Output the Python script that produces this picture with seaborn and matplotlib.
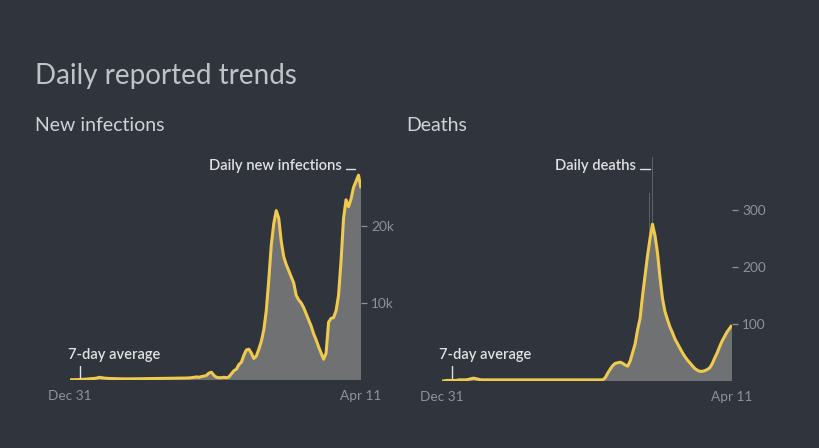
import numpy as np
import pandas as pd
import matplotlib
matplotlib.use("Agg")
import matplotlib.pyplot as plt
import seaborn as sns
from matplotlib.lines import Line2D

# ---------------- data ----------------
start = pd.Timestamp("2019-12-31")
end = pd.Timestamp("2021-04-11")
dates = pd.date_range(end=end, periods=118, freq="4D")

infections_avg = [
    20, 30, 40, 50, 60, 80, 100, 120, 150, 180, 200, 250,
    350, 300, 250, 220, 200, 190, 180, 170, 160, 160, 150, 150,
    150, 150, 160, 160, 160, 170, 170, 180, 180, 190, 190, 200,
    200, 210, 210, 220, 220, 230, 230, 240, 240, 250, 250, 260, 270,
    300, 350, 400, 350, 450, 500, 600,
    900, 1000, 600, 350, 300, 300, 350, 300, 400,
    800, 1200, 1400, 2000, 2300, 3200, 3900, 4000, 3500, 2800, 3100, 4000, 5000, 6500,
    9000, 13000, 17500, 20300, 22000, 21000, 18000, 16000, 15000, 14200, 13400, 12600,
    11000, 10400, 10000, 9400, 8600, 7800, 7000, 6000, 5200, 4300, 3500, 2700,
    3500, 7500, 8000, 8100, 9000, 11000, 15500, 21000, 23400, 22500, 23500, 25000,
    25800, 26600, 24900,
]
deaths_avg = [
    0, 0, 1, 1, 1, 1, 1, 2, 2, 2,
    2, 3, 4, 5, 4, 3, 2,
    2, 2, 2, 2, 2, 2, 2, 2, 2, 2, 2, 2,
    2, 2, 2, 2, 2, 2, 2, 2, 2, 2, 2, 2,
    2, 2, 2, 2, 2, 2, 2, 2, 2, 2, 2, 2,
    2, 2, 2, 2, 2, 2, 2, 2, 2, 2, 2, 2,
    2, 6, 14, 21, 27, 31, 32, 33, 31, 28, 26, 35, 50, 65, 90, 110,
    150, 185, 220, 250, 275, 255, 225, 182, 145, 122, 108, 95, 85, 74,
    66, 58, 50, 43, 37, 32, 27, 22, 19, 17, 17, 18, 20, 23, 30, 40,
    49, 60, 70, 78, 86, 92, 98,
]
assert len(infections_avg) == len(dates) and len(deaths_avg) == len(dates)

inf_spike_days = [278, 289, 332, 443, 462]
inf_spike_vals = [10000, 5600, 24000, 26000, 29000]
death_spike_days = [334, 339, 345]
death_spike_vals = [330, 393, 318]

x_tick_labels = ["Dec 31", "Apr 11"]
inf_ticks = [10000, 20000]
inf_tick_labels = ["10k", "20k"]
death_ticks = [100, 200, 300]
death_tick_labels = ["100", "200", "300"]

# ---------------- style ----------------
BG = "#30343c"
YELLOW = "#efca4e"
GREY = "#6f7173"
SPIKE = "#5d6064"
TICK = "#8f9297"
TEXT = "#e0e1e3"

sns.set_theme(style="dark")
plt.rcParams["font.family"] = ["Lato", "DejaVu Sans"]

W, H = 820, 448
fig = plt.figure(figsize=(W / 100, H / 100), dpi=100, facecolor=BG)

def fx(x):
    return x / W

def fy(y):
    return 1 - y / H

days = np.asarray((dates - start).days)
total_days = (end - start).days

def panel(rect, avg, spike_days, spike_vals, ymax, ticks, tick_labels):
    ax = fig.add_axes(rect)
    ax.set_facecolor(BG)
    ax.bar(spike_days, spike_vals, width=0.7, color=SPIKE, linewidth=0)
    ax.bar(days, avg, width=4.0, color=GREY, linewidth=0)
    sns.lineplot(x=days, y=avg, ax=ax, color=YELLOW, linewidth=2.2,
                 solid_joinstyle="round", solid_capstyle="butt")
    ax.set_xlim(0, total_days)
    ax.set_ylim(0, ymax)
    for s in ax.spines.values():
        s.set_visible(False)
    ax.grid(False)
    ax.set_xticks([0, total_days])
    ax.set_xticklabels(x_tick_labels)
    ax.yaxis.tick_right()
    ax.set_yticks(ticks)
    ax.set_yticklabels(tick_labels)
    ax.tick_params(axis="both", colors=TICK, labelcolor=TICK, labelsize=9.8,
                   length=4.5, width=0.9, direction="out")
    ax.tick_params(axis="y", pad=3)
    ax.tick_params(axis="x", pad=3)
    ax.set_xlabel("")
    ax.set_ylabel("")
    return ax

# left panel: x 70..361 px, zero at y=380, 10k per 77 px
ax1 = panel([fx(70), fy(380), fx(361) - fx(70), 231 / H],
            infections_avg, inf_spike_days, inf_spike_vals, 30000,
            inf_ticks, inf_tick_labels)
# right panel: x 442..732 px, zero at y=381, 100 per 57 px
ax2 = panel([fx(442), fy(381), fx(732) - fx(442), 228 / H],
            deaths_avg, death_spike_days, death_spike_vals, 400,
            death_ticks, death_tick_labels)

# ---------------- texts ----------------
fig.text(fx(35), fy(76), "Daily reported trends", fontsize=20, fontweight="normal",
         color="#bfc2c6", va="center", ha="left")
fig.text(fx(35), fy(125), "New infections", fontsize=14, color="#d0d2d5",
         va="center", ha="left")
fig.text(fx(406), fy(125), "Deaths", fontsize=14, color="#d0d2d5",
         va="center", ha="left")

def note(x, y, s, ha):
    fig.text(fx(x), fy(y), s, fontsize=10.6, fontweight="semibold", color=TEXT,
             va="center", ha=ha)

def seg(x0, y0, x1, y1):
    fig.add_artist(Line2D([fx(x0), fx(x1)], [fy(y0), fy(y1)], color=TEXT,
                          linewidth=1.0, transform=fig.transFigure))

note(342, 166, "Daily new infections", "right")
seg(346, 169, 355, 169)
note(68, 355, "7-day average", "left")
seg(80, 366, 80, 378)

note(636, 166, "Daily deaths", "right")
seg(640, 169, 650, 169)
note(439, 355, "7-day average", "left")
seg(452, 366, 452, 378)

fig.savefig("out.png", dpi=100, facecolor=BG)
